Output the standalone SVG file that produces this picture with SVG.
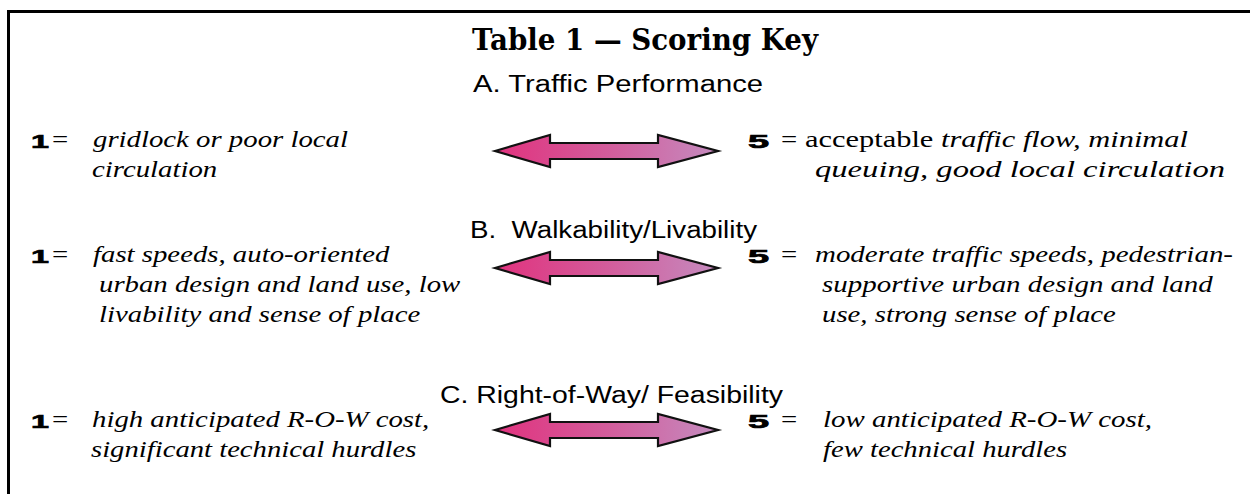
<svg xmlns="http://www.w3.org/2000/svg" width="1250" height="494" viewBox="0 0 1250 494">
  <defs>
    <linearGradient id="arrowFill" x1="0" y1="0" x2="1" y2="0">
      <stop offset="0" stop-color="#e1327e"/>
      <stop offset="0.5" stop-color="#d35c9b"/>
      <stop offset="1" stop-color="#c58bbf"/>
    </linearGradient>
    <!-- double-headed block arrow centred on the origin -->
    <path id="dblArrow" d="M -111.5 0 L -56.5 -16 L -56.5 -8 L 51.5 -8 L 51.5 -16 L 111.5 0 L 51.5 16 L 51.5 8 L -56.5 8 L -56.5 16 Z"/>
    <style>
      .title { font-family: "DejaVu Serif", "Liberation Serif", serif; font-weight: bold; font-size: 30px; fill: #000; }
      .head { font-family: "Liberation Sans", Arial, sans-serif; font-size: 23.5px; fill: #000; white-space: pre; }
      .it { font-family: "Liberation Serif", "Times New Roman", serif; font-style: italic; font-size: 23.5px; fill: #000; }
      .rm { font-family: "Liberation Serif", "Times New Roman", serif; font-size: 23.5px; fill: #000; }
      .num { font-family: "Liberation Sans", Arial, sans-serif; font-weight: bold; font-size: 19px; fill: #000; stroke: #000; stroke-width: 0.7px; }
      .arrow { fill: url(#arrowFill); stroke: #111; stroke-width: 2.2; stroke-linejoin: miter; }
      .frame { fill: none; stroke: #000; stroke-width: 3; }
    </style>
  </defs>

  <rect width="1250" height="494" fill="#fff"/>

  <!-- open frame: left and top rules -->
  <path class="frame" d="M 8.5 494 V 11.5 H 1250"/>

  <g id="title">
    <text class="title" x="472" y="50" textLength="346" lengthAdjust="spacingAndGlyphs">Table 1 — Scoring Key</text>
  </g>

  <!-- A. Traffic Performance -->
  <g id="section-a">
    <text class="head" x="473" y="92" textLength="290" lengthAdjust="spacingAndGlyphs">A. Traffic Performance</text>
    <g id="a-low">
      <text class="num" transform="translate(31,148) scale(1.7,1)">1</text>
      <text class="rm" transform="translate(52,147) scale(1.225,1)">=</text>
      <text class="it" transform="translate(93,147) scale(1.225,1)">gridlock or poor local</text>
      <text class="it" transform="translate(92,177) scale(1.225,1)">circulation</text>
    </g>
    <g id="a-high">
      <text class="num" transform="translate(748,148) scale(2,1)">5</text>
      <text class="rm" transform="translate(781,147) scale(1.225,1)">=</text>
      <text x="805" y="147" textLength="383" lengthAdjust="spacingAndGlyphs"><tspan class="rm">acceptable </tspan><tspan class="it">traffic flow, minimal</tspan></text>
      <text class="it" x="815" y="177" textLength="410" lengthAdjust="spacingAndGlyphs">queuing, good local circulation</text>
    </g>
  </g>

  <!-- B. Walkability/Livability -->
  <g id="section-b">
    <text class="head" x="470" y="238" textLength="287" lengthAdjust="spacingAndGlyphs">B.  Walkability/Livability</text>
    <g id="b-low">
      <text class="num" transform="translate(31,263) scale(1.7,1)">1</text>
      <text class="rm" transform="translate(52,262) scale(1.225,1)">=</text>
      <text class="it" transform="translate(93,262) scale(1.225,1)">fast speeds, auto-oriented</text>
      <text class="it" transform="translate(99,292) scale(1.225,1)">urban design and land use, low</text>
      <text class="it" transform="translate(99,322) scale(1.225,1)">livability and sense of place</text>
    </g>
    <g id="b-high">
      <text class="num" transform="translate(748,263) scale(2,1)">5</text>
      <text class="rm" transform="translate(781,262) scale(1.225,1)">=</text>
      <text class="it" transform="translate(815,262) scale(1.232,1)">moderate traffic speeds, pedestrian-</text>
      <text class="it" transform="translate(822,292) scale(1.232,1)">supportive urban design and land</text>
      <text class="it" transform="translate(822,322) scale(1.225,1)">use, strong sense of place</text>
    </g>
  </g>

  <!-- C. Right-of-Way/ Feasibility -->
  <g id="section-c">
    <text class="head" x="440" y="403" textLength="343" lengthAdjust="spacingAndGlyphs">C. Right-of-Way/ Feasibility</text>
    <g id="c-low">
      <text class="num" transform="translate(31,428) scale(1.7,1)">1</text>
      <text class="rm" transform="translate(52,427) scale(1.225,1)">=</text>
      <text class="it" transform="translate(92,427) scale(1.225,1)">high anticipated R-O-W cost,</text>
      <text class="it" transform="translate(91,457) scale(1.22,1)">significant technical hurdles</text>
    </g>
    <g id="c-high">
      <text class="num" transform="translate(748,428) scale(2,1)">5</text>
      <text class="rm" transform="translate(781,427) scale(1.225,1)">=</text>
      <text class="it" transform="translate(823,427) scale(1.23,1)">low anticipated R-O-W cost,</text>
      <text class="it" transform="translate(823,457) scale(1.22,1)">few technical hurdles</text>
    </g>
  </g>

  <!-- scale arrows linking score 1 to score 5 -->
  <g id="connectors">
    <use href="#dblArrow" class="arrow" x="606.5" y="151"/>
    <use href="#dblArrow" class="arrow" x="606.5" y="268"/>
    <use href="#dblArrow" class="arrow" x="606.5" y="430"/>
  </g>
</svg>
